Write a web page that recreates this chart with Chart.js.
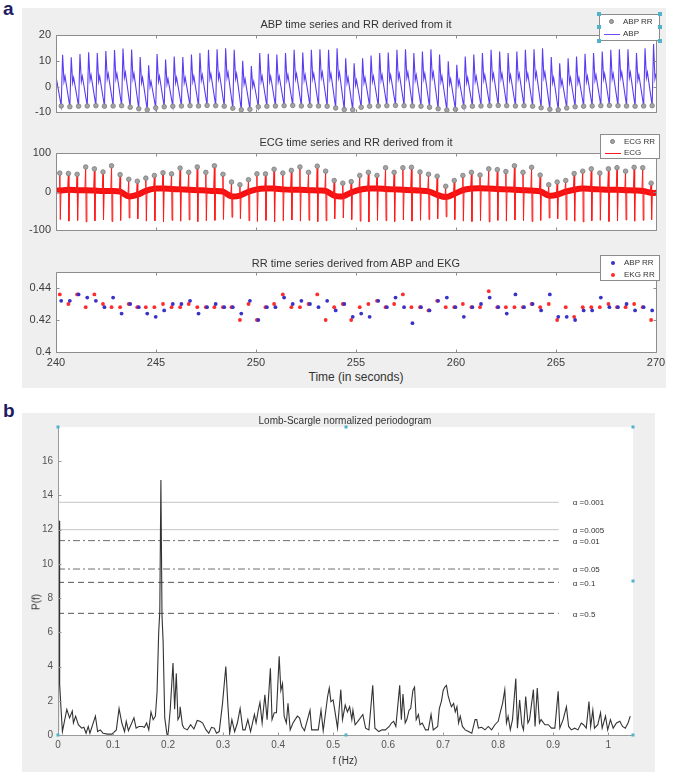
<!DOCTYPE html>
<html><head><meta charset="utf-8">
<script src="https://cdn.jsdelivr.net/npm/chart.js@4.4.1/dist/chart.umd.min.js"></script>
<style>
html,body{margin:0;padding:0;background:#fff;}
body{position:relative;width:685px;height:776px;overflow:hidden;font-family:"Liberation Sans",Arial,Helvetica,sans-serif;}
.panel{position:absolute;background:#efefef;}
canvas{position:absolute;left:0;}
.tt{position:absolute;white-space:nowrap;color:#333;transform:translate(-50%,-50%);}
.tag{position:absolute;font-weight:bold;font-size:19px;color:#1d1b63;line-height:1;}
.leg{position:absolute;background:#fff;border:1px solid #8c8c8c;box-sizing:border-box;}
.leg .row{position:absolute;left:0;right:0;height:10px;font-size:8px;line-height:10px;color:#333;}
.leg .txt{position:absolute;left:23px;top:0;}
.mk{position:absolute;border-radius:50%;box-sizing:border-box;}
.ln{position:absolute;height:1px;}
.h{position:absolute;width:4px;height:4px;background:#4fb3c9;margin:-2px 0 0 -2px;}
</style></head><body>
<div class="panel" style="left:22px;top:8px;width:644px;height:380px"></div>
<div class="panel" style="left:22px;top:413px;width:633px;height:359px"></div>
<div class="tag" style="left:3px;top:-1px">a</div>
<div class="tag" style="left:3px;top:401px">b</div>

<canvas id="c1"></canvas>
<canvas id="c2"></canvas>
<canvas id="c3"></canvas>
<canvas id="c4"></canvas>

<div class="tt" style="left:356px;top:24px;font-size:11px">ABP time series and RR derived from it</div>
<div class="tt" style="left:356px;top:142px;font-size:11px">ECG time series and RR derived from it</div>
<div class="tt" style="left:356px;top:263px;font-size:11px">RR time series derived from ABP and EKG</div>
<div class="tt" style="left:356px;top:377px;font-size:12px">Time (in seconds)</div>
<div class="tt" style="left:345px;top:420px;font-size:10px">Lomb-Scargle normalized periodogram</div>
<div class="tt" style="left:345px;top:760px;font-size:10px">f (Hz)</div>
<div class="tt" style="left:36px;top:602px;font-size:10px;transform:translate(-50%,-50%) rotate(-90deg)">P(f)</div>

<div class="leg" style="left:599px;top:14px;width:61px;height:27px">
  <div class="row" style="top:2px"><div class="mk" style="left:9px;top:2px;width:5px;height:5px;background:#a3a3a3;border:1px solid #7d7d7d"></div><span class="txt">ABP RR</span></div>
  <div class="row" style="top:14px"><div class="ln" style="left:4px;width:16px;top:5px;background:#6a4dff"></div><span class="txt">ABP</span></div>
</div>
<div class="h" style="left:599px;top:14px"></div><div class="h" style="left:660px;top:14px"></div>
<div class="h" style="left:599px;top:41px"></div><div class="h" style="left:660px;top:41px"></div>
<div class="h" style="left:599px;top:27px"></div><div class="h" style="left:660px;top:27px"></div>

<div class="leg" style="left:600px;top:134px;width:60px;height:25px">
  <div class="row" style="top:2px"><div class="mk" style="left:9px;top:2px;width:5px;height:5px;background:#a3a3a3;border:1px solid #7d7d7d"></div><span class="txt">ECG RR</span></div>
  <div class="row" style="top:13px"><div class="ln" style="left:4px;width:16px;top:5px;background:#ff1a1a"></div><span class="txt">ECG</span></div>
</div>

<div class="leg" style="left:600px;top:255px;width:60px;height:26px">
  <div class="row" style="top:2px"><div class="mk" style="left:10px;top:3px;width:4px;height:4px;background:#3a32c8"></div><span class="txt">ABP RR</span></div>
  <div class="row" style="top:14px"><div class="mk" style="left:10px;top:3px;width:4px;height:4px;background:#ff2a2a"></div><span class="txt">EKG RR</span></div>
</div>

<script>
// ---------------- data ----------------
const timeTicks = [240, 245, 250, 255, 260, 265, 270];
const timeTickLabels = ['240', '245', '250', '255', '260', '265', '270'];
const abpTicks = [-10, 0, 10, 20];
const abpTickLabels = ['-10', '0', '10', '20'];
const ecgTicks = [-100, 0, 100];
const ecgTickLabels = ['-100', '0', '100'];
const rrTicks = [0.4, 0.42, 0.44];
const rrTickLabels = ['0.4', '0.42', '0.44'];

const firstEcgBeat = 240.19;
const firstAbpBeat = 240.26;
const abpStartValue = 4;

const ekgRR = [0.436,0.430,0.436,0.428,0.436,0.430,0.428,0.428,0.430,0.428,
  0.428,0.428,0.430,0.428,0.428,0.430,0.428,0.428,0.428,0.428,
  0.428,0.420,0.430,0.420,0.428,0.430,0.436,0.428,0.428,0.430,
  0.436,0.420,0.428,0.430,0.420,0.428,0.430,0.432,0.428,0.430,
  0.436,0.428,0.428,0.426,0.432,0.428,0.428,0.430,0.428,0.428,
  0.438,0.428,0.428,0.428,0.428,0.430,0.428,0.430,0.420,0.428,
  0.422,0.428,0.428,0.428,0.430,0.428,0.428,0.430,0.428,0.420];

const abpRR = [0.432,0.432,0.436,0.434,0.432,0.428,0.434,0.424,0.430,0.428,
  0.424,0.422,0.426,0.430,0.430,0.432,0.424,0.428,0.430,0.428,
  0.428,0.424,0.432,0.420,0.428,0.428,0.434,0.430,0.432,0.430,
  0.428,0.432,0.426,0.430,0.422,0.424,0.422,0.432,0.428,0.434,
  0.428,0.418,0.428,0.426,0.432,0.434,0.428,0.422,0.428,0.430,
  0.434,0.428,0.424,0.436,0.428,0.430,0.426,0.436,0.422,0.422,
  0.420,0.426,0.426,0.434,0.428,0.428,0.430,0.426,0.428,0.426];

const ecgR = [48,47,45,64,59,51,67,44,32,27,
  35,42,49,46,61,50,64,50,67,45,
  25,18,31,46,46,58,48,55,64,50,
  66,53,29,22,26,42,50,42,62,50,
  62,63,51,45,40,14,29,42,50,43,
  59,57,52,67,50,63,43,18,25,29,
  47,53,59,48,59,62,53,63,62,22];

const ecgS = [-72,-76,-74,-78,-75,-73,-77,-74,-68,-70,
  -76,-75,-78,-74,-76,-73,-77,-75,-74,-72,
  -66,-70,-75,-77,-74,-78,-75,-73,-76,-74,
  -77,-75,-70,-68,-72,-76,-78,-74,-75,-77,
  -73,-76,-74,-72,-70,-65,-72,-76,-77,-75,
  -78,-74,-76,-73,-75,-77,-74,-68,-70,-73,
  -76,-78,-75,-74,-77,-75,-73,-76,-74,-72];

const ecgBase = [3,5,4,4,3,2,2,0,-12,-8,
  2,8,8,7,6,5,4,3,2,0,
  -12,-10,0,6,8,8,6,5,5,4,
  3,2,-10,-12,-2,5,8,8,7,6,
  5,4,3,1,-8,-14,-6,4,8,9,
  8,7,6,5,4,3,1,-10,-8,0,
  5,8,7,6,5,5,4,3,2,-3];

const abpPeak = [12.3,11.4,12.6,13.3,13.0,13.8,14.2,14.8,14.4,11.5,
  8.3,12.6,10.5,11.7,11.5,12.4,13.0,14.3,14.5,14.9,
  14.3,10.0,8.0,13.0,12.7,12.4,13.0,14.3,13.2,14.3,
  14.5,14.3,14.9,11.0,9.0,11.0,12.0,13.0,13.2,14.3,
  14.5,13.0,13.6,14.5,12.4,9.8,8.5,11.7,12.4,13.0,
  14.3,13.6,13.0,13.6,14.3,14.5,14.9,11.5,9.0,11.0,
  11.7,12.7,13.0,13.6,14.3,14.5,14.5,13.0,14.9,16.5];

const abpMin = [-7.5,-7.8,-7.6,-7.5,-7.4,-7.6,-7.5,-7.4,-8.0,-8.6,
  -9.0,-8.2,-7.8,-7.6,-7.5,-7.4,-7.5,-7.3,-7.4,-7.6,
  -8.4,-9.0,-8.8,-7.8,-7.6,-7.5,-7.4,-7.3,-7.5,-7.4,
  -7.5,-7.6,-8.3,-8.9,-9.0,-8.0,-7.6,-7.5,-7.4,-7.3,
  -7.4,-7.5,-7.6,-8.0,-8.6,-9.1,-8.8,-7.8,-7.6,-7.5,
  -7.4,-7.3,-7.4,-7.5,-7.4,-7.6,-8.2,-8.8,-9.0,-8.3,
  -7.8,-7.6,-7.5,-7.4,-7.3,-7.4,-7.5,-7.6,-7.5,-7.4];

const abpNotch = [2,1.5,2,2.5,2,3,3,3.5,3,1.5,
  0,2,1,1.5,1.5,2,2.5,3,3,3.5,
  3,1,0,2,2,2,2.5,3,2.5,3,
  3.5,3,3.5,1.5,0.5,1.5,2,2.5,2.5,3,
  3.5,2.5,3,3.5,2,1,0.5,1.5,2,2.5,
  3,3,2.5,3,3,3.5,3.5,1.5,0.5,1.5,
  1.5,2,2.5,3,3,3.5,3.5,2.5,3.5,3];

const abpDicrotic = [4,3.5,4,4.5,4,5,5,5.5,5,3.5,
  2,4,3,3.5,3.5,4,4.5,5,5,5.5,
  5,3,2,4,4,4,4.5,5,4.5,5,
  5.5,5,5.5,3.5,2.5,3.5,4,4.5,4.5,5,
  5.5,4.5,5,5.5,4,3,2.5,3.5,4,4.5,
  5,5,4.5,5,5,5.5,5.5,3.5,2.5,3.5,
  3.5,4,4.5,5,5,5.5,5.5,4.5,5.5,5];

const freqHz = [0,0.001,0.002,0.003,0.005,0.008,0.016,0.021,0.026,0.028,0.032,0.037,0.043,0.047,0.051,0.055,0.058,0.068,0.072,0.077,
  0.082,0.09,0.098,0.106,0.111,0.116,0.121,0.124,0.128,0.138,0.142,0.147,0.153,0.157,0.161,0.165,0.169,0.173,0.177,0.180,
  0.183,0.185,0.187,0.189,0.191,0.194,0.198,0.2,0.204,0.209,0.212,0.215,0.218,0.221,0.222,0.226,0.229,0.235,0.241,0.247,
  0.253,0.258,0.263,0.269,0.274,0.279,0.284,0.288,0.293,0.299,0.305,0.309,0.312,0.316,0.321,0.326,0.331,0.336,0.34,0.345,
  0.35,0.357,0.36,0.364,0.367,0.371,0.376,0.380,0.386,0.389,0.393,0.397,0.402,0.405,0.408,0.411,0.415,0.418,0.422,0.427,
  0.435,0.439,0.443,0.448,0.458,0.461,0.467,0.473,0.478,0.482,0.49,0.493,0.496,0.5,0.503,0.508,0.514,0.517,0.522,0.526,
  0.530,0.534,0.536,0.540,0.545,0.554,0.559,0.565,0.572,0.576,0.583,0.589,0.595,0.602,0.606,0.61,0.614,0.621,0.624,0.627,
  0.631,0.634,0.638,0.641,0.645,0.648,0.651,0.655,0.658,0.662,0.668,0.673,0.678,0.682,0.69,0.693,0.697,0.7,0.703,0.706,
  0.709,0.712,0.715,0.719,0.722,0.725,0.728,0.731,0.735,0.74,0.746,0.752,0.758,0.761,0.764,0.77,0.776,0.782,0.788,0.794,
  0.8,0.804,0.808,0.812,0.815,0.818,0.822,0.826,0.832,0.835,0.839,0.843,0.846,0.85,0.854,0.857,0.864,0.867,0.871,0.875,
  0.878,0.885,0.891,0.897,0.903,0.909,0.912,0.918,0.924,0.928,0.933,0.939,0.945,0.951,0.955,0.96,0.965,0.968,0.972,0.975,
  0.981,0.986,0.989,0.995,0.999,1.004,1.009,1.015,1.021,1.026,1.031,1.036,1.04];

const powerPf = [0.3,12.5,12.5,3.0,1.8,0.2,1.5,1.0,1.4,0.7,1.1,0.6,0.4,0.45,0.1,0.5,0.1,1.1,0.2,0.3,
  0.1,0.05,0.05,0.3,1.55,0.7,0.2,0.8,0.25,1.0,0.4,0.5,0.5,0.45,0.7,0.3,1.35,0.9,1.1,2.5,
  6.0,7.2,14.9,7.0,5.5,1.0,0.05,0.0,1.5,4.2,1.5,3.6,0.9,1.1,1.65,0.6,0.4,0.3,0.6,0.35,
  0.85,0.8,0.7,0.3,0.1,0.45,0.4,0.1,0.2,1.85,4.0,1.6,0.1,0.9,0.2,0.7,1.55,0.3,0.3,0.9,
  0.2,1.2,0.7,1.45,1.9,0.7,2.35,0.9,3.9,0.9,1.3,1.3,4.6,2.6,3.0,1.1,0.7,1.85,0.3,0.7,
  1.1,1.0,0.5,0.25,1.45,0.3,0.3,0.3,1.45,0.25,2.25,2.75,1.95,2.05,1.45,0.4,2.65,0.9,1.75,1.35,
  1.65,0.9,1.45,0.6,0.8,1.2,0.4,0.3,2.9,0.4,0.2,0.3,0.3,0.5,0.7,0.8,0.5,2.9,0.9,2.4,
  0.7,0.9,1.45,1.55,2.6,2.8,0.9,1.2,0.6,0.7,0.3,0.3,1.2,0.3,0.5,1.55,2.0,2.6,2.8,2.9,
  2.3,1.95,1.65,1.85,1.35,1.65,0.7,1.1,0.5,0.3,0.2,0.1,0.9,0.9,0.4,0.45,0.3,0.5,0.3,0.6,
  0.8,1.35,1.85,2.65,0.7,1.1,0.3,0.9,3.3,0.4,2.05,0.6,0.3,2.25,0.7,0.9,2.65,0.5,2.75,0.7,
  0.9,0.6,0.6,0.4,0.4,2.55,0.4,0.9,1.65,0.5,0.3,0.4,0.3,0.7,0.6,0.4,1.95,0.5,1.45,0.4,
  0.6,1.3,0.4,1.1,0.3,0.9,0.4,0.7,0.8,0.5,0.4,0.7,1.1];

const alphaLevels = ['0.001', '0.005', '0.01', '0.05', '0.1', '0.5'];
const alphaThresholds = [13.6, 12.0, 11.36, 9.7, 8.92, 7.11];
const alphaLineEnd = 0.91;
const pfTicks = [0, 2, 4, 6, 8, 10, 12, 14, 16];
const pfTickLabels = ['0', '2', '4', '6', '8', '10', '12', '14', '16'];
const fTicks = [0, 0.1, 0.2, 0.3, 0.4, 0.5, 0.6, 0.7, 0.8, 0.9, 1];
const fTickLabels = ['0', '0.1', '0.2', '0.3', '0.4', '0.5', '0.6', '0.7', '0.8', '0.9', '1'];

// ---------------- derived ----------------
function beatTimes(first, rr) { const t = [first]; for (let i = 1; i < rr.length; i++) t.push(t[i - 1] + rr[i]); return t; }
const ecgT = beatTimes(firstEcgBeat, ekgRR);
const abpT = beatTimes(firstAbpBeat, abpRR);

const abpLine = [{x: 240, y: abpStartValue}];
abpT.forEach((t, i) => {
  abpLine.push({x: t, y: abpMin[i]}, {x: t + 0.07, y: abpPeak[i]}, {x: t + 0.14, y: abpNotch[i]}, {x: t + 0.19, y: abpDicrotic[i]});
});

const ecgLine = [{x: 240, y: ecgBase[0]}];
ecgT.forEach((t, i) => { ecgLine.push({x: t - 0.04, y: ecgBase[i]}, {x: t, y: ecgR[i]}, {x: t + 0.025, y: ecgS[i]}, {x: t + 0.06, y: ecgBase[i]}); });
ecgLine.push({x: 270, y: ecgBase[ecgBase.length - 1]});
const ecgBand = [{x: 240, y: ecgBase[0]}].concat(ecgT.map((t, i) => ({x: t, y: ecgBase[i]})), [{x: 270, y: ecgBase[ecgBase.length - 1]}]);

// ---------------- helpers ----------------
const FONT = '"Liberation Sans", Arial, Helvetica, sans-serif';
const boxPlugin = {
  id: 'mbox',
  beforeDatasetsDraw(chart, args, o) {
    if (!o || !o.on) return;
    const {ctx, chartArea: a} = chart;
    ctx.save(); ctx.fillStyle = '#ffffff'; ctx.fillRect(a.left, a.top, a.right - a.left, a.bottom - a.top); ctx.restore();
  },
  afterDatasetsDraw(chart, args, o) {
    if (!o || !o.on) return;
    const {ctx, chartArea: a, scales: {x, y}} = chart;
    ctx.save(); ctx.strokeStyle = o.color || '#8c8c8c'; ctx.lineWidth = 1;
    ctx.beginPath();
    const L = o.len || 3;
    const l = Math.round(a.left) + 0.5, r = Math.round(a.right) + 0.5, t = Math.round(a.top) + 0.5, b = Math.round(a.bottom) + 0.5;
    if (o.full) { ctx.rect(l, t, r - l, b - t); }
    else { ctx.moveTo(l, t); ctx.lineTo(l, b); ctx.lineTo(r, b); }
    (o.xt || []).forEach(v => { const p = Math.round(x.getPixelForValue(v)) + 0.5; ctx.moveTo(p, b); ctx.lineTo(p, b - L); if (o.full) { ctx.moveTo(p, t); ctx.lineTo(p, t + L); } });
    (o.yt || []).forEach(v => { const p = Math.round(y.getPixelForValue(v)) + 0.5; ctx.moveTo(l, p); ctx.lineTo(l + L, p); if (o.full) { ctx.moveTo(r, p); ctx.lineTo(r - L, p); } });
    ctx.stroke(); ctx.restore();
  }
};
Chart.register(boxPlugin);

function setCanvas(id, top, h) { const c = document.getElementById(id); c.width = 685; c.height = h; c.style.top = top + 'px'; c.style.width = '685px'; c.style.height = h + 'px'; return c; }
function yAxis(min, max, ticks, labels, width, size, color) {
  return {type: 'linear', min, max,
    afterFit: s => { s.width = width; },
    afterBuildTicks: s => { s.ticks = ticks.map(v => ({value: v})); },
    grid: {display: false, drawTicks: false}, border: {display: false},
    ticks: {autoSkip: false, padding: 5, color: color || '#3c3c3c', font: {family: FONT, size: size || 11}, callback: (v, i) => labels[i]}};
}
function xAxis(min, max, ticks, labels, show, height, size, color) {
  return {type: 'linear', min, max, display: show,
    afterFit: s => { s.height = height; },
    afterBuildTicks: s => { s.ticks = ticks.map(v => ({value: v})); },
    grid: {display: false, drawTicks: false}, border: {display: false},
    ticks: {autoSkip: false, maxRotation: 0, padding: 4, color: color || '#3c3c3c', font: {family: FONT, size: size || 11}, callback: (v, i) => labels[i]}};
}
function base(pad, scales, plugins) {
  return {responsive: false, animation: false, devicePixelRatio: 1, events: [],
    layout: {padding: pad}, scales,
    plugins: Object.assign({legend: {display: false}, tooltip: {enabled: false}, title: {display: false}}, plugins)};
}

// ---------------- chart 1: ABP ----------------
new Chart(setCanvas('c1', 12, 112), {
  type: 'scatter',
  data: {datasets: [
    {data: abpT.map((t, i) => ({x: t, y: abpMin[i]})), showLine: false, pointRadius: 2.3, pointBackgroundColor: '#a3a3a3', pointBorderColor: '#7d7d7d', pointBorderWidth: 0.8},
    {data: abpLine, showLine: true, borderColor: '#5a3cf2', borderWidth: 1.1, pointRadius: 0, tension: 0}
  ]},
  options: base({top: 23, bottom: 11, left: 0, right: 29},
    {x: xAxis(240, 270, timeTicks, timeTickLabels, false, 0), y: yAxis(-10, 20, abpTicks, abpTickLabels, 56)},
    {mbox: {on: true, full: true, xt: timeTicks, yt: abpTicks}})
});

// ---------------- chart 2: ECG ----------------
new Chart(setCanvas('c2', 130, 112), {
  type: 'scatter',
  data: {datasets: [
    {data: ecgT.map((t, i) => ({x: t, y: ecgR[i]})), showLine: false, pointRadius: 2.3, pointBackgroundColor: '#a3a3a3', pointBorderColor: '#7d7d7d', pointBorderWidth: 0.8},
    {data: ecgLine, showLine: true, borderColor: '#ff1a1a', borderWidth: 1, pointRadius: 0, tension: 0},
    {data: ecgBand, showLine: true, borderColor: '#f21010', borderWidth: 6, pointRadius: 0, tension: 0.3}
  ]},
  options: base({top: 23, bottom: 9, left: 0, right: 29},
    {x: xAxis(240, 270, timeTicks, timeTickLabels, false, 0), y: yAxis(-100, 100, ecgTicks, ecgTickLabels, 56)},
    {mbox: {on: true, full: true, xt: timeTicks, yt: ecgTicks}})
});

// ---------------- chart 3: RR ----------------
new Chart(setCanvas('c3', 250, 120), {
  type: 'scatter',
  data: {datasets: [
    {data: abpT.map((t, i) => ({x: t, y: abpRR[i]})), showLine: false, pointRadius: 1.9, pointBorderWidth: 0, pointBackgroundColor: '#3a32c8'},
    {data: ecgT.map((t, i) => ({x: t, y: ekgRR[i]})), showLine: false, pointRadius: 1.9, pointBorderWidth: 0, pointBackgroundColor: '#ff2a2a'}
  ]},
  options: base({top: 22, bottom: 2, left: 0, right: 29},
    {x: xAxis(240, 270, timeTicks, timeTickLabels, true, 16), y: yAxis(0.4, 0.45, rrTicks, rrTickLabels, 56)},
    {mbox: {on: true, full: true, xt: timeTicks, yt: rrTicks}})
});

// ---------------- chart 4: periodogram ----------------
const sigStyles = [
  {c: '#c4c4c4', d: []}, {c: '#c4c4c4', d: []},
  {c: '#6e6e6e', d: [7, 3, 2, 3]}, {c: '#6e6e6e', d: [7, 3, 2, 3]},
  {c: '#555555', d: [6, 4]}, {c: '#555555', d: [6, 4]}
];
const sigSets = alphaThresholds.map((v, i) => ({
  data: [{x: 0, y: v}, {x: alphaLineEnd, y: v}], showLine: true, pointRadius: 0,
  borderColor: sigStyles[i].c, borderDash: sigStyles[i].d, borderWidth: 1, sigLabel: 'α =' + alphaLevels[i]
}));
const sigLabelPlugin = {
  id: 'siglabels',
  afterDatasetsDraw(chart) {
    const {ctx, scales: {x, y}} = chart;
    ctx.save(); ctx.fillStyle = '#333'; ctx.font = '8px ' + FONT; ctx.textBaseline = 'middle';
    chart.data.datasets.forEach(ds => { if (ds.sigLabel) ctx.fillText(ds.sigLabel, x.getPixelForValue(alphaLineEnd) + 14, y.getPixelForValue(ds.data[0].y) + 1); });
    ctx.restore();
  }
};
const handlePlugin = {
  id: 'handles',
  afterDraw(chart) {
    const {ctx, chartArea: a} = chart;
    const mx = (a.left + a.right) / 2, my = (a.top + a.bottom) / 2;
    ctx.save(); ctx.fillStyle = '#4fb3c9';
    [[a.left, a.top], [mx, a.top], [a.right, a.top], [a.right, my], [a.left, a.bottom], [mx, a.bottom], [a.right, a.bottom]].forEach(p => ctx.fillRect(Math.round(p[0]) - 1.5, Math.round(p[1]) - 1.5, 3, 3));
    ctx.restore();
  }
};
new Chart(setCanvas('c4', 413, 359), {
  type: 'scatter',
  data: {datasets: [
    {data: freqHz.map((f, i) => ({x: f, y: powerPf[i]})), showLine: true, borderColor: '#333333', borderWidth: 1.1, pointRadius: 0, tension: 0}
  ].concat(sigSets)},
  options: base({top: 14, bottom: 21, left: 0, right: 52},
    {x: xAxis(0, 1.045, fTicks, fTickLabels, true, 16, 10, '#555'), y: yAxis(0, 18, pfTicks, pfTickLabels, 58, 10, '#555')},
    {mbox: {on: true, full: false, xt: fTicks, yt: pfTicks, color: '#9a9a9a'}}),
  plugins: [sigLabelPlugin, handlePlugin]
});
</script>
</body></html>
